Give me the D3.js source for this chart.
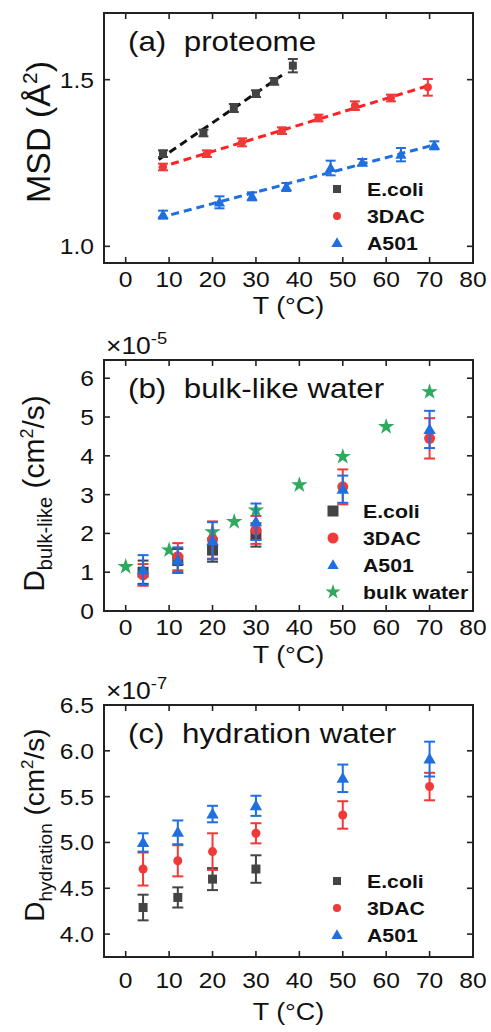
<!DOCTYPE html>
<html>
<head>
<meta charset="utf-8">
<script src="https://cdn.jsdelivr.net/npm/d3@7"></script>
<style>
  body { margin: 0; background: #fff; }
  text { font-family: Arial, "Liberation Sans", sans-serif; fill: #111; }
</style>
</head>
<body>
<svg id="chart" width="491" height="1032"></svg>
<script>
// ---- data (a) proteome MSD
const msdT_ecoli = [8.6, 17.9, 24.9, 30.0, 34.2, 38.5];
const msd_ecoli = [1.278, 1.340, 1.415, 1.458, 1.495, 1.542];
const msdErr_ecoli = [0.010, 0.010, 0.012, 0.010, 0.010, 0.020];
const msdT_3dac = [8.6, 18.7, 26.8, 36.0, 44.4, 52.8, 61.1, 69.6];
const msd_3dac = [1.238, 1.278, 1.312, 1.347, 1.385, 1.422, 1.445, 1.477];
const msdErr_3dac = [0.010, 0.010, 0.012, 0.010, 0.010, 0.013, 0.010, 0.025];
const msdT_a501 = [8.6, 21.6, 29.1, 37.0, 47.2, 54.5, 63.4, 71.1];
const msd_a501 = [1.095, 1.132, 1.150, 1.178, 1.235, 1.252, 1.275, 1.303];
const msdErr_a501 = [0.012, 0.018, 0.012, 0.012, 0.022, 0.010, 0.020, 0.012];

// ---- data (b) bulk-like water, x1e-5 cm2/s
const dT = [4, 12, 20, 30, 50, 70];
const dBulk_ecoli = [1.00, 1.30, 1.57, 1.96];
const dBulkErr_ecoli = [0.30, 0.30, 0.30, 0.30];
const dBulk_3dac = [0.93, 1.40, 1.83, 2.09, 3.20, 4.45];
const dBulkErr_3dac = [0.28, 0.35, 0.48, 0.36, 0.45, 0.52];
const dBulk_a501 = [1.06, 1.31, 1.81, 2.30, 3.14, 4.68];
const dBulkErr_a501 = [0.38, 0.33, 0.48, 0.47, 0.35, 0.48];
const bulkT = [0, 10, 20, 25, 30, 40, 50, 60, 70];
const bulkWater = [1.14, 1.57, 2.04, 2.30, 2.60, 3.25, 3.98, 4.75, 5.65];

// ---- data (c) hydration water, x1e-7 cm2/s
const dHyd_ecoli = [4.29, 4.40, 4.60, 4.71];
const dHydErr_ecoli = [0.14, 0.11, 0.12, 0.15];
const dHyd_3dac = [4.71, 4.80, 4.90, 5.10, 5.30, 5.61];
const dHydErr_3dac = [0.18, 0.17, 0.20, 0.11, 0.15, 0.15];
const dHyd_a501 = [5.00, 5.11, 5.31, 5.40, 5.70, 5.91];
const dHydErr_a501 = [0.10, 0.13, 0.09, 0.11, 0.15, 0.19];

const xTicks = [0, 10, 20, 30, 40, 50, 60, 70, 80];
const col = { ecoli: "#444444", dac: "#f03a3a", a501: "#1f6fe0", bulk: "#2eaa5e" };

const svg = d3.select("#chart");
const left = 104, right = 473;

function zip(xs, ys, es) {
  return ys.map((y, i) => ({ x: xs[i], y: y, e: es ? es[i] : 0 }));
}

// stretch text sideways around its anchor x, like the source figure
function stretch(sel, ax, k) {
  return sel.attr("transform", `translate(${ax},0) scale(${k},1) translate(${-ax},0)`);
}

function marker(g, kind, x, y, s, color) {
  if (kind === "square") {
    g.append("rect").attr("x", x - s / 2).attr("y", y - s / 2)
      .attr("width", s).attr("height", s).attr("fill", color);
  } else if (kind === "circle") {
    g.append("circle").attr("cx", x).attr("cy", y).attr("r", s / 2).attr("fill", color);
  } else if (kind === "triangle") {
    g.append("path").attr("d", d3.symbol(d3.symbolTriangle, s * s * 0.55)())
      .attr("transform", `translate(${x},${y + s * 0.08})`).attr("fill", color);
  } else if (kind === "star") {
    g.append("path").attr("d", d3.symbol(d3.symbolStar, s * s * 0.5)())
      .attr("transform", `translate(${x},${y})`).attr("fill", color);
  }
}

function drawPanel(cfg) {
  const x = d3.scaleLinear().domain([-5, 80]).range([left, right]);
  const y = d3.scaleLinear().domain(cfg.yDomain).range([cfg.bottom, cfg.top]);
  const g = svg.append("g");
  const tk = 6;

  // frame
  g.append("rect").attr("x", left).attr("y", cfg.top)
    .attr("width", right - left).attr("height", cfg.bottom - cfg.top)
    .attr("fill", "none").attr("stroke", "#222").attr("stroke-width", 2);

  // x ticks (inward, top + bottom)
  xTicks.forEach(t => {
    const px = x(t);
    g.append("line").attr("x1", px).attr("x2", px).attr("y1", cfg.bottom).attr("y2", cfg.bottom - tk)
      .attr("stroke", "#222").attr("stroke-width", 1.6);
    g.append("line").attr("x1", px).attr("x2", px).attr("y1", cfg.top).attr("y2", cfg.top + tk)
      .attr("stroke", "#222").attr("stroke-width", 1.6);
    stretch(g.append("text").attr("x", px).attr("y", cfg.bottom + cfg.tickDy)
      .attr("text-anchor", "middle").attr("font-size", 22).text(t), px, 1.12);
  });

  // y ticks
  cfg.yTicks.forEach(t => {
    const py = y(t);
    g.append("line").attr("x1", left).attr("x2", left + tk).attr("y1", py).attr("y2", py)
      .attr("stroke", "#222").attr("stroke-width", 1.6);
    g.append("line").attr("x1", right).attr("x2", right - tk).attr("y1", py).attr("y2", py)
      .attr("stroke", "#222").attr("stroke-width", 1.6);
    stretch(g.append("text").attr("x", 94).attr("y", py + 8)
      .attr("text-anchor", "end").attr("font-size", 22).text(cfg.yFormat(t)), 94, 1.12);
  });

  // x axis title
  const cx = (left + right) / 2;
  stretch(g.append("text").attr("x", cx).attr("y", cfg.bottom + cfg.titleDy)
    .attr("text-anchor", "middle").attr("font-size", 24).text("T (°C)"), cx, 1.12);

  // y axis title
  const cy = (cfg.top + cfg.bottom) / 2 + cfg.yTitleShift;
  const yt = g.append("text").attr("transform", `translate(${cfg.yTitleX},${cy}) rotate(-90)`)
    .attr("text-anchor", "middle").attr("font-size", cfg.yTitleSize);
  cfg.yTitle(yt);

  // panel label
  stretch(g.append("text").attr("x", 128).attr("y", cfg.top + 38).attr("font-size", 28)
    .text(cfg.label), 128, 1.12);

  // multiplier
  if (cfg.mult) {
    const mt = stretch(g.append("text").attr("x", 106).attr("y", cfg.top - 6).attr("font-size", 23), 106, 1.15);
    mt.append("tspan").text("×10");
    mt.append("tspan").attr("dy", -10).attr("font-size", 16).text(cfg.mult);
  }

  // fit lines (least squares through each series)
  (cfg.fits || []).forEach(s => {
    const pts = s.data;
    const mx = d3.mean(pts, p => p.x);
    const my = d3.mean(pts, p => p.y);
    const slope = d3.sum(pts, p => (p.x - mx) * (p.y - my)) / d3.sum(pts, p => (p.x - mx) ** 2);
    const x0 = d3.min(pts, p => p.x) - 1, x1 = s.xEnd;
    g.append("line")
      .attr("x1", x(x0)).attr("y1", y(my + slope * (x0 - mx)))
      .attr("x2", x(x1)).attr("y2", y(my + slope * (x1 - mx)))
      .attr("stroke", s.color).attr("stroke-width", 3).attr("stroke-dasharray", "8,5");
  });

  // series
  cfg.series.forEach(s => {
    const sg = g.append("g");
    s.data.forEach(p => {
      const px = x(p.x);
      if (p.e > 0) {
        const y1 = y(p.y - p.e), y2 = y(p.y + p.e), cw = s.cap;
        sg.append("line").attr("x1", px).attr("x2", px).attr("y1", y1).attr("y2", y2)
          .attr("stroke", s.color).attr("stroke-width", 2);
        [y1, y2].forEach(yy => sg.append("line").attr("x1", px - cw / 2).attr("x2", px + cw / 2)
          .attr("y1", yy).attr("y2", yy).attr("stroke", s.color).attr("stroke-width", 2));
      }
      marker(sg, s.kind, px, y(p.y), s.size, s.color);
    });
  });

  // legend
  cfg.series.slice().sort((a, b) => a.legendOrder - b.legendOrder).forEach((s, i) => {
    const ly = cfg.legendY + i * cfg.legendStep;
    marker(g, s.kind, cfg.legendX, ly, s.legendSize, s.color);
    stretch(g.append("text").attr("x", cfg.legendX + 30).attr("y", ly + 7)
      .attr("font-size", 19).attr("font-weight", "bold").text(s.name), cfg.legendX + 30, 1.12);
  });
}

function unitTitle(sub, subSize) {
  return t => {
    t.append("tspan").text("D");
    t.append("tspan").attr("font-size", subSize).attr("dy", 8).text(sub);
    t.append("tspan").attr("dy", -8).text(" (cm");
    t.append("tspan").attr("font-size", subSize - 2).attr("dy", -11).text("2");
    t.append("tspan").attr("dy", 11).text("/s)");
  };
}

drawPanel({
  top: 13, bottom: 263, yDomain: [0.95, 1.70], yTicks: [1.0, 1.5], yFormat: d3.format(".1f"),
  label: "(a)\u00a0 proteome", tickDy: 24, titleDy: 51,
  yTitleX: 50, yTitleSize: 34, yTitleShift: -6,
  yTitle: t => {
    t.append("tspan").text("MSD (Å");
    t.append("tspan").attr("font-size", 21).attr("dy", -13).text("2");
    t.append("tspan").attr("dy", 13).text(")");
  },
  fits: [
    { data: zip(msdT_ecoli, msd_ecoli), color: "#111", xEnd: 36 },
    { data: zip(msdT_3dac, msd_3dac), color: "#f22", xEnd: 70 },
    { data: zip(msdT_a501, msd_a501), color: "#1f6fe0", xEnd: 71 }
  ],
  series: [
    { name: "E.coli", kind: "square", color: col.ecoli, size: 8, legendSize: 8, cap: 10, legendOrder: 0, data: zip(msdT_ecoli, msd_ecoli, msdErr_ecoli) },
    { name: "3DAC", kind: "circle", color: col.dac, size: 8, legendSize: 8, cap: 10, legendOrder: 1, data: zip(msdT_3dac, msd_3dac, msdErr_3dac) },
    { name: "A501", kind: "triangle", color: col.a501, size: 10, legendSize: 10, cap: 10, legendOrder: 2, data: zip(msdT_a501, msd_a501, msdErr_a501) }
  ],
  legendX: 337, legendY: 189, legendStep: 27
});

drawPanel({
  top: 360, bottom: 611, yDomain: [0, 6.47], yTicks: [0, 1, 2, 3, 4, 5, 6], yFormat: d3.format("d"),
  label: "(b)\u00a0 bulk-like water", mult: "-5", tickDy: 24, titleDy: 52,
  yTitleX: 44, yTitleSize: 30, yTitleShift: 8,
  yTitle: unitTitle("bulk-like", 20),
  series: [
    { name: "bulk water", kind: "star", color: col.bulk, size: 13, legendSize: 12, cap: 0, legendOrder: 3, data: zip(bulkT, bulkWater) },
    { name: "E.coli", kind: "square", color: col.ecoli, size: 11, legendSize: 11, cap: 11, legendOrder: 0, data: zip(dT, dBulk_ecoli, dBulkErr_ecoli) },
    { name: "3DAC", kind: "circle", color: col.dac, size: 11, legendSize: 11, cap: 11, legendOrder: 1, data: zip(dT, dBulk_3dac, dBulkErr_3dac) },
    { name: "A501", kind: "triangle", color: col.a501, size: 11, legendSize: 10, cap: 11, legendOrder: 2, data: zip(dT, dBulk_a501, dBulkErr_a501) }
  ],
  legendX: 333, legendY: 511, legendStep: 27
});

drawPanel({
  top: 705, bottom: 957, yDomain: [3.75, 6.5], yTicks: [4.0, 4.5, 5.0, 5.5, 6.0, 6.5], yFormat: d3.format(".1f"),
  label: "(c)\u00a0 hydration water", mult: "-7", tickDy: 31, titleDy: 63,
  yTitleX: 44, yTitleSize: 28, yTitleShift: -6,
  yTitle: unitTitle("hydration", 19),
  series: [
    { name: "E.coli", kind: "square", color: col.ecoli, size: 9, legendSize: 8, cap: 11, legendOrder: 0, data: zip(dT, dHyd_ecoli, dHydErr_ecoli) },
    { name: "3DAC", kind: "circle", color: col.dac, size: 9, legendSize: 8, cap: 11, legendOrder: 1, data: zip(dT, dHyd_3dac, dHydErr_3dac) },
    { name: "A501", kind: "triangle", color: col.a501, size: 11, legendSize: 10, cap: 11, legendOrder: 2, data: zip(dT, dHyd_a501, dHydErr_a501) }
  ],
  legendX: 337, legendY: 881, legendStep: 27
});
</script>
</body>
</html>
